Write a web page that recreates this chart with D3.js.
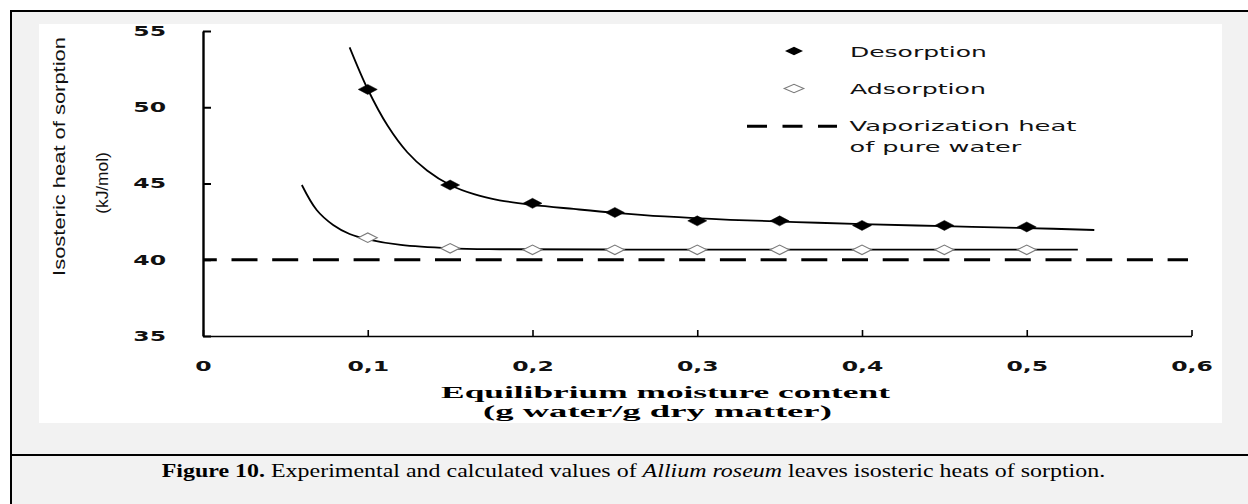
<!DOCTYPE html>
<html><head><meta charset="utf-8">
<script src="https://cdn.jsdelivr.net/npm/d3@7"></script>
<style>html,body{margin:0;padding:0;background:#fff;}svg{display:block}</style>
</head><body>
<svg id="c" width="1248" height="504"></svg>
<script>
// ---------- data ----------
const xTickValues = [0, 0.1, 0.2, 0.3, 0.4, 0.5, 0.6];
const xTickLabels = ["0", "0,1", "0,2", "0,3", "0,4", "0,5", "0,6"];
const yTickValues = [35, 40, 45, 50, 55];
const yTickLabels = ["35", "40", "45", "50", "55"];

const moisture   = [0.10, 0.15, 0.20, 0.25, 0.30, 0.35, 0.40, 0.45, 0.50];
const desorption = [51.17, 44.90, 43.70, 43.10, 42.55, 42.55, 42.25, 42.25, 42.15];
const adsorption = [41.45, 40.75, 40.65, 40.65, 40.65, 40.65, 40.65, 40.65, 40.65];

// calculated (fitted) curves
const desFitX = [0.089, 0.100, 0.112, 0.124, 0.136, 0.150, 0.165, 0.180, 0.200, 0.225, 0.250, 0.280, 0.320, 0.360, 0.400, 0.450, 0.500, 0.541];
const desFitY = [53.93, 51.18, 48.80, 47.05, 45.85, 44.90, 44.28, 43.90, 43.60, 43.33, 43.08, 42.84, 42.62, 42.47, 42.34, 42.20, 42.08, 41.95];
const adsFitX = [0.060, 0.069, 0.079, 0.089, 0.100, 0.120, 0.150, 0.180, 0.250, 0.350, 0.450, 0.531];
const adsFitY = [44.90, 43.26, 42.28, 41.69, 41.34, 40.97, 40.75, 40.69, 40.67, 40.66, 40.66, 40.66];

const vaporHeat = 40;
const vaporRange = [0, 0.6];

const legendLabels = ["Desorption", "Adsorption", "Vaporization heat", "of pure water"];
const xTitle = ["Equilibrium moisture content", "(g water/g dry matter)"];
const yTitle = ["Isosteric heat of sorption", "(kJ/mol)"];

// ---------- drawing ----------
const svg = d3.select("#c");

// frame
svg.append("rect").attr("x", 11).attr("y", 11).attr("width", 1240).attr("height", 500).attr("fill", "#f2f2f2");
svg.append("rect").attr("x", 39).attr("y", 24).attr("width", 1183).attr("height", 399).attr("fill", "#fff");
svg.append("line").attr("x1", 10).attr("x2", 1248).attr("y1", 11).attr("y2", 11).attr("stroke", "#000").attr("stroke-width", 2);
svg.append("line").attr("x1", 11).attr("x2", 11).attr("y1", 10).attr("y2", 504).attr("stroke", "#000").attr("stroke-width", 2);
svg.append("line").attr("x1", 10).attr("x2", 1248).attr("y1", 455).attr("y2", 455).attr("stroke", "#000").attr("stroke-width", 2);

const x = d3.scaleLinear().domain([0, 0.6]).range([203, 1191.5]);
const y = d3.scaleLinear().domain([35, 55]).range([336, 31]);

function stretchK(sel, k) {
  sel.each(function () {
    const t = d3.select(this);
    const tx = +t.attr("x") || 0, ty = +t.attr("y") || 0;
    t.attr("x", 0).attr("y", 0).attr("transform", `translate(${tx},${ty}) scale(${k},1)`);
  });
}
function stretchTo(sel, w, rot) {
  sel.each(function () {
    const t = d3.select(this);
    const k = w / this.getComputedTextLength();
    const tx = +t.attr("x") || 0, ty = +t.attr("y") || 0;
    t.attr("x", 0).attr("y", 0)
      .attr("transform", `translate(${tx},${ty})${rot ? " rotate(" + rot + ")" : ""} scale(${k},1)`);
  });
}

// y axis
const gy = svg.append("g").attr("transform", "translate(203,0)")
  .call(d3.axisLeft(y).tickValues(yTickValues).tickFormat((d, i) => yTickLabels[i])
    .tickSizeInner(-8).tickSizeOuter(0).tickPadding(37));
gy.select(".domain").attr("stroke", "#000").attr("stroke-width", 2.4);
gy.selectAll(".tick line").attr("stroke", "#000").attr("stroke-width", 2);
gy.selectAll("text").attr("font-family", "DejaVu Sans").attr("font-weight", "bold")
  .attr("font-size", 14).attr("fill", "#111");
stretchK(gy.selectAll("text"), 1.68);

// x axis
const gx = svg.append("g").attr("transform", "translate(0,336)")
  .call(d3.axisBottom(x).tickValues(xTickValues).tickFormat((d, i) => xTickLabels[i])
    .tickSizeInner(-6).tickSizeOuter(0).tickPadding(25));
gx.select(".domain").attr("stroke", "#000").attr("stroke-width", 1.6);
gx.selectAll(".tick line").attr("stroke", "#000").attr("stroke-width", 1.6);
gx.selectAll("text").attr("font-family", "DejaVu Sans").attr("font-weight", "bold")
  .attr("font-size", 14).attr("fill", "#111");
stretchK(gx.selectAll("text"), 1.68);

// vaporization heat line
svg.append("line")
  .attr("x1", x(vaporRange[0])).attr("x2", x(vaporRange[1]) - 3.5)
  .attr("y1", y(vaporHeat)).attr("y2", y(vaporHeat))
  .attr("stroke", "#000").attr("stroke-width", 3)
  .attr("stroke-dasharray", "26,14.7").attr("stroke-dashoffset", 12.2);

// fitted curves
const line = d3.line().x(d => x(d[0])).y(d => y(d[1])).curve(d3.curveCatmullRom.alpha(0.5));
svg.append("path").datum(desFitX.map((v, i) => [v, desFitY[i]]))
  .attr("d", line).attr("fill", "none").attr("stroke", "#000").attr("stroke-width", 1.8);
svg.append("path").datum(adsFitX.map((v, i) => [v, adsFitY[i]]))
  .attr("d", line).attr("fill", "none").attr("stroke", "#000").attr("stroke-width", 1.8);

const diamond = (w, h) => `M${-w / 2},0L0,${-h / 2}L${w / 2},0L0,${h / 2}Z`;

// adsorption markers
svg.append("g").selectAll("path").data(moisture.map((v, i) => [v, adsorption[i]])).join("path")
  .attr("transform", d => `translate(${x(d[0])},${y(d[1])})`)
  .attr("d", diamond(19, 9.5)).attr("fill", "#fff").attr("stroke", "#7a7a7a").attr("stroke-width", 1.1);
// desorption markers
svg.append("g").selectAll("path").data(moisture.map((v, i) => [v, desorption[i]])).join("path")
  .attr("transform", d => `translate(${x(d[0])},${y(d[1])})`)
  .attr("d", diamond(19, 10)).attr("fill", "#000").attr("stroke", "#000").attr("stroke-width", 0.5);

// legend
const lg = svg.append("g");
lg.append("path").attr("transform", "translate(794,51)").attr("d", diamond(18, 8.5)).attr("fill", "#000");
lg.append("path").attr("transform", "translate(794,88.5)").attr("d", diamond(19.5, 8.5))
  .attr("fill", "#fff").attr("stroke", "#7a7a7a").attr("stroke-width", 1.1);
lg.append("line").attr("x1", 747).attr("x2", 837).attr("y1", 126.3).attr("y2", 126.3)
  .attr("stroke", "#000").attr("stroke-width", 3).attr("stroke-dasharray", "20,15.5");
const legPos = [[850, 56.5, 137], [850, 93.5, 136], [849.5, 131, 227], [849.5, 152, 172]];
legendLabels.forEach((s, i) => {
  const t = lg.append("text").attr("x", legPos[i][0]).attr("y", legPos[i][1])
    .attr("font-family", "DejaVu Sans").attr("font-size", 14.5).attr("fill", "#111").text(s);
  stretchTo(t, legPos[i][2]);
});

// axis titles
const xt1 = svg.append("text").attr("x", 665.5).attr("y", 398.3).attr("text-anchor", "middle")
  .attr("font-family", "Liberation Serif").attr("font-weight", "bold").attr("font-size", 17.5).text(xTitle[0]);
stretchTo(xt1, 449);
const xt2 = svg.append("text").attr("x", 657.4).attr("y", 416.7).attr("text-anchor", "middle")
  .attr("font-family", "Liberation Serif").attr("font-weight", "bold").attr("font-size", 17.5).text(xTitle[1]);
stretchTo(xt2, 349);

const yt1 = svg.append("text").attr("x", 65).attr("y", 156.5).attr("text-anchor", "middle")
  .attr("font-family", "Liberation Sans").attr("font-size", 17).attr("fill", "#111").text(yTitle[0]);
stretchTo(yt1, 239, -90);
const yt2 = svg.append("text").attr("x", 107.5).attr("y", 183).attr("text-anchor", "middle")
  .attr("font-family", "Liberation Sans").attr("font-size", 17).attr("fill", "#111").text(yTitle[1]);
stretchTo(yt2, 61.7, -90);

// caption
const cap = svg.append("text").attr("x", 161.7).attr("y", 477.3)
  .attr("font-family", "Liberation Serif").attr("font-size", 18.5).attr("fill", "#000");
cap.append("tspan").attr("font-weight", "bold").text("Figure 10.");
cap.append("tspan").text(" Experimental and calculated values of ");
cap.append("tspan").attr("font-style", "italic").text("Allium roseum");
cap.append("tspan").text(" leaves isosteric heats of sorption.");
stretchTo(cap, 944);
</script>
</body></html>
